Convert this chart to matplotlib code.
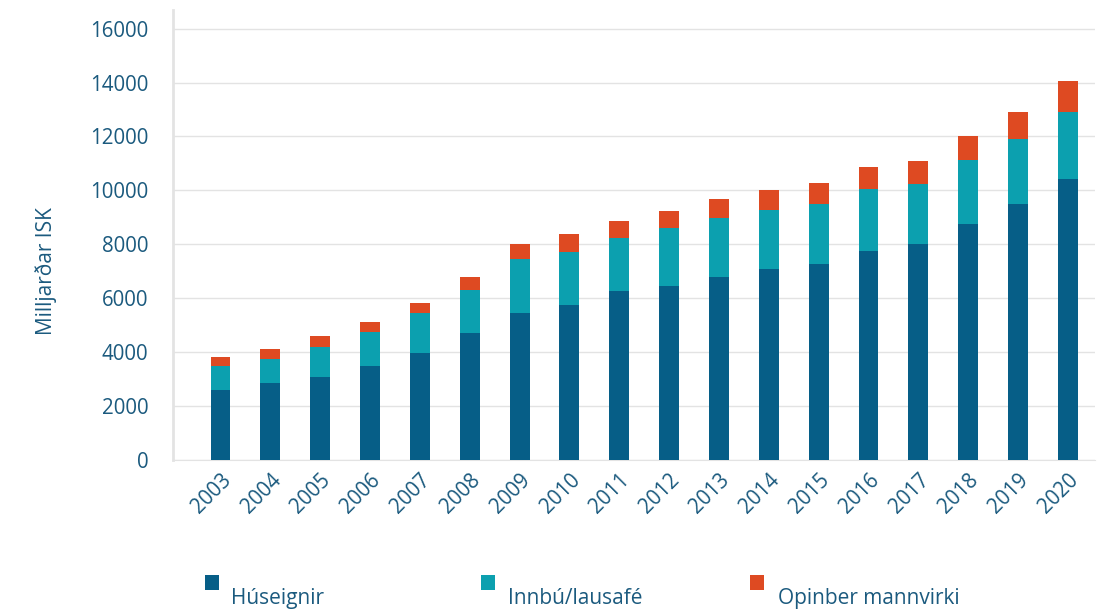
import numpy as np
import matplotlib
matplotlib.use("Agg")
import matplotlib.pyplot as plt
from matplotlib.patches import Rectangle

# values (milljarðar ISK)
years = [str(y) for y in range(2003, 2021)]
huseignir = [2600, 2850, 3090, 3490, 3980, 4700, 5440, 5750, 6270, 6470,
             6780, 7080, 7260, 7760, 8000, 8760, 9490, 10430]
innbu = [890, 910, 1110, 1270, 1470, 1610, 2010, 1980, 1960, 2130,
         2200, 2200, 2230, 2280, 2230, 2370, 2410, 2490]
opinber = [320, 360, 410, 360, 380, 480, 550, 640, 640, 640,
           700, 740, 780, 810, 860, 890, 1010, 1120]
series_names = ["Húseignir", "Innbú/lausafé", "Opinber mannvirki"]

c_dark = "#065e87"
c_teal = "#0ca0af"
c_red = "#de4a22"
txt = "#1b5a7e"

plt.rcParams['font.family'] = ['Open Sans', 'DejaVu Sans']

W, H = 1103, 610
fig = plt.figure(figsize=(W / 100, H / 100), dpi=100)
ax = fig.add_axes([0.157, 0.246, 0.836, 0.738])

x = np.arange(len(years))
w = 0.4
b1 = np.array(huseignir)
b2 = b1 + np.array(innbu)
ax.bar(x, huseignir, w, color=c_dark, zorder=3)
ax.bar(x, innbu, w, bottom=b1, color=c_teal, zorder=3)
ax.bar(x, opinber, w, bottom=b2, color=c_red, zorder=3)

ax.set_xlim(-0.95, 17.55)
ax.set_ylim(0, 16700)
ax.set_yticks(range(0, 16001, 2000))
ax.set_xticks(x)
ax.set_xticklabels(years, rotation=45, ha='right', rotation_mode='anchor')
ax.tick_params(axis='both', length=0, labelsize=14.8, labelcolor=txt)
ax.tick_params(axis='y', pad=18)
ax.tick_params(axis='x', pad=7)

ax.grid(axis='y', color='#e3e3e3', linewidth=1, zorder=0)
for s in ['top', 'right']:
    ax.spines[s].set_visible(False)
ax.spines['left'].set_color('#e3e3e3')
ax.spines['left'].set_linewidth(2)
ax.spines['bottom'].set_color('#e3e3e3')

ax.set_ylabel("Milljarðar ISK", fontsize=15, color=txt)
ax.yaxis.set_label_coords(-0.126, 0.42)

# legend: small square sitting a bit above-left of each label
sq_x = [205, 481, 750]
lab_x = [231, 508, 778]
for sx, lx, col, name in zip(sq_x, lab_x, (c_dark, c_teal, c_red), series_names):
    fig.add_artist(Rectangle((sx / W, 1 - 590 / H), 14 / W, 15 / H,
                             transform=fig.transFigure, color=col, lw=0))
    fig.text(lx / W, 1 - 604 / H, name, fontsize=15, color=txt,
             ha='left', va='baseline')

fig.savefig("out.png", dpi=100)
